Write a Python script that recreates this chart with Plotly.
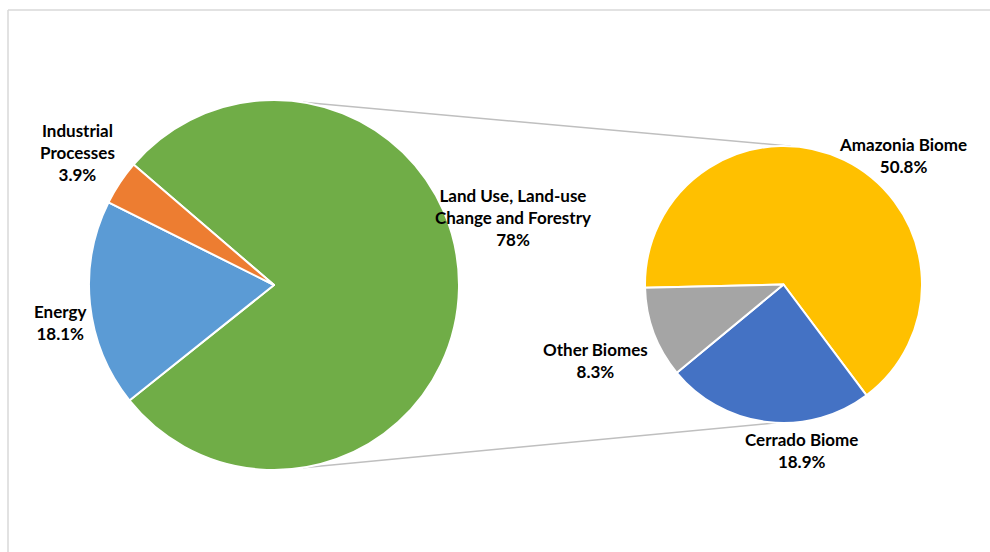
import math
import plotly.graph_objects as go

# ---- data ----
main_labels = ["Land Use, Land-use Change and Forestry", "Energy", "Industrial Processes"]
main_values = [78.0, 18.1, 3.9]
main_colors = ["#70AD47", "#5B9BD5", "#ED7D31"]

sub_labels = ["Amazonia Biome", "Cerrado Biome", "Other Biomes"]
sub_values = [50.8, 18.9, 8.3]
sub_colors = ["#FFC000", "#4472C4", "#A5A5A5"]

main_label_text = ["Land Use, Land-use<br>Change and Forestry<br>78%", "Energy<br>18.1%", "Industrial<br>Processes<br>3.9%"]
sub_label_text = ["Amazonia Biome<br>50.8%", "Cerrado Biome<br>18.9%", "Other Biomes<br>8.3%"]

# ---- layout geometry (pixels) ----
W, H = 990, 552
c1 = (274, 285); r1 = 185
c2 = (783.5, 284.5); r2 = 138.5

def dom(c, r):
    return dict(x=[(c[0] - r) / W, (c[0] + r) / W],
                y=[(H - c[1] - r) / H, (H - c[1] + r) / H])

def px(x, y):
    return x / W, 1 - y / H

fig = go.Figure()
fig.add_trace(go.Pie(labels=main_labels, values=main_values, sort=False,
                     direction="clockwise", rotation=-49.4,
                     marker=dict(colors=main_colors, line=dict(color="white", width=2)),
                     textinfo="none", domain=dom(c1, r1), showlegend=False, hoverinfo="label+value"))
fig.add_trace(go.Pie(labels=sub_labels, values=sub_values, sort=False,
                     direction="clockwise", rotation=-91.3,
                     marker=dict(colors=sub_colors, line=dict(color="white", width=2)),
                     textinfo="none", domain=dom(c2, r2), showlegend=False, hoverinfo="label+value"))

# connector lines (from left pie edge to top/bottom of right pie)
def on_circle(c, r, ang_deg):
    a = math.radians(ang_deg)
    return c[0] + r * math.sin(a), c[1] - r * math.cos(a)

p_top1 = on_circle(c1, r1, 9)
p_bot1 = on_circle(c1, r1, 171)
p_top2 = on_circle(c2, r2, 3)
p_bot2 = on_circle(c2, r2, 183)
for a, b in [(p_top1, p_top2), (p_bot1, p_bot2)]:
    x0, y0 = px(*a); x1, y1 = px(*b)
    fig.add_shape(type="line", xref="paper", yref="paper", x0=x0, y0=y0, x1=x1, y1=y1,
                  line=dict(color="#BFBFBF", width=1.5), layer="below")

# frame (top and left edges visible)
fx, fy = px(8, 10)
fig.add_shape(type="line", xref="paper", yref="paper", x0=fx, y0=fy, x1=1.0, y1=fy,
              line=dict(color="#D9D9D9", width=1.5))
fig.add_shape(type="line", xref="paper", yref="paper", x0=fx, y0=fy, x1=fx, y1=0.0,
              line=dict(color="#D9D9D9", width=1.5))

font = dict(family="Lato, Carlito, sans-serif", size=17, color="#000000")
label_pos = {
    main_label_text[0]: (513, 217),
    main_label_text[1]: (60, 322),
    main_label_text[2]: (77, 152),
    sub_label_text[0]: (903, 155),
    sub_label_text[1]: (801, 450),
    sub_label_text[2]: (595, 360),
}
for t, (x, y) in label_pos.items():
    ax, ay = px(x, y)
    fig.add_annotation(text="<b>" + t.replace("<br>", "</b><br><b>") + "</b>", x=ax, y=ay,
                       xref="paper", yref="paper", showarrow=False,
                       xanchor="center", yanchor="middle", align="center", font=font)

fig.update_layout(width=W, height=H, margin=dict(l=0, r=0, t=0, b=0),
                  paper_bgcolor="white", plot_bgcolor="white")
fig.write_html("out.html")
